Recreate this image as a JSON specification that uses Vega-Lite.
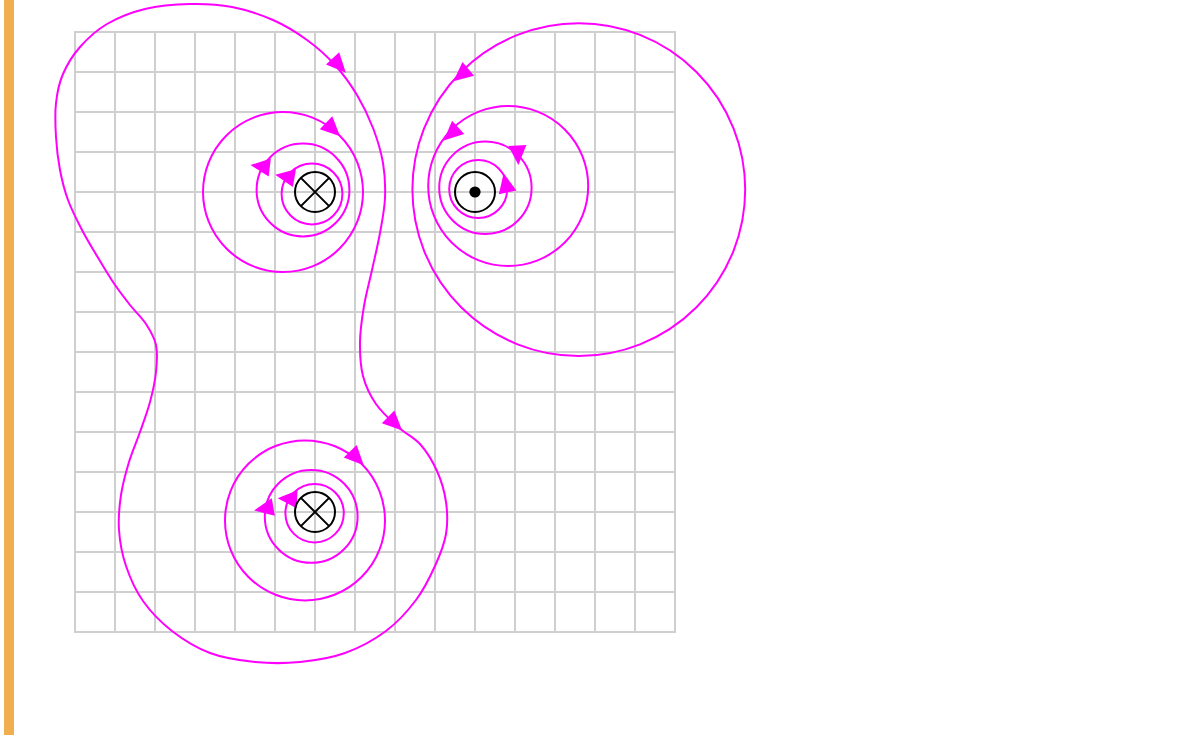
{
  "$schema": "https://vega.github.io/schema/vega-lite/v6.json",
  "width": 1180,
  "height": 738,
  "padding": 0,
  "autosize": "none",
  "background": "white",
  "config": {"view": {"stroke": null}},
  "datasets": {
    "bar": [{"x": -1.65, "y": -0.8, "y2": 17.575}],
    "grid": [
      {"x": 0, "y": 0, "x2": 0, "y2": 15}, {"x": 1, "y": 0, "x2": 1, "y2": 15}, {"x": 2, "y": 0, "x2": 2, "y2": 15}, {"x": 3, "y": 0, "x2": 3, "y2": 15},
      {"x": 4, "y": 0, "x2": 4, "y2": 15}, {"x": 5, "y": 0, "x2": 5, "y2": 15}, {"x": 6, "y": 0, "x2": 6, "y2": 15}, {"x": 7, "y": 0, "x2": 7, "y2": 15},
      {"x": 8, "y": 0, "x2": 8, "y2": 15}, {"x": 9, "y": 0, "x2": 9, "y2": 15}, {"x": 10, "y": 0, "x2": 10, "y2": 15}, {"x": 11, "y": 0, "x2": 11, "y2": 15},
      {"x": 12, "y": 0, "x2": 12, "y2": 15}, {"x": 13, "y": 0, "x2": 13, "y2": 15}, {"x": 14, "y": 0, "x2": 14, "y2": 15}, {"x": 15, "y": 0, "x2": 15, "y2": 15},
      {"x": 0, "y": 0, "x2": 15, "y2": 0}, {"x": 0, "y": 1, "x2": 15, "y2": 1}, {"x": 0, "y": 2, "x2": 15, "y2": 2}, {"x": 0, "y": 3, "x2": 15, "y2": 3},
      {"x": 0, "y": 4, "x2": 15, "y2": 4}, {"x": 0, "y": 5, "x2": 15, "y2": 5}, {"x": 0, "y": 6, "x2": 15, "y2": 6}, {"x": 0, "y": 7, "x2": 15, "y2": 7},
      {"x": 0, "y": 8, "x2": 15, "y2": 8}, {"x": 0, "y": 9, "x2": 15, "y2": 9}, {"x": 0, "y": 10, "x2": 15, "y2": 10}, {"x": 0, "y": 11, "x2": 15, "y2": 11},
      {"x": 0, "y": 12, "x2": 15, "y2": 12}, {"x": 0, "y": 13, "x2": 15, "y2": 13}, {"x": 0, "y": 14, "x2": 15, "y2": 14}, {"x": 0, "y": 15, "x2": 15, "y2": 15}
    ],
    "loop": [
      {"i": 1, "x": 2.875, "y": -0.7}, {"i": 2, "x": 3.925, "y": -0.625}, {"i": 3, "x": 4.95, "y": -0.3}, {"i": 4, "x": 5.8, "y": 0.2},
      {"i": 5, "x": 6.5, "y": 0.825}, {"i": 6, "x": 7.05, "y": 1.575}, {"i": 7, "x": 7.45, "y": 2.4}, {"i": 8, "x": 7.7, "y": 3.275},
      {"i": 9, "x": 7.75, "y": 4.15}, {"i": 10, "x": 7.625, "y": 5.025}, {"i": 11, "x": 7.425, "y": 5.95}, {"i": 12, "x": 7.225, "y": 6.85},
      {"i": 13, "x": 7.125, "y": 7.75}, {"i": 14, "x": 7.2, "y": 8.6}, {"i": 15, "x": 7.525, "y": 9.3}, {"i": 16, "x": 8.075, "y": 9.875},
      {"i": 17, "x": 8.625, "y": 10.3}, {"i": 18, "x": 9.05, "y": 10.975}, {"i": 19, "x": 9.275, "y": 11.75}, {"i": 20, "x": 9.275, "y": 12.55},
      {"i": 21, "x": 9.0, "y": 13.35}, {"i": 22, "x": 8.525, "y": 14.2}, {"i": 23, "x": 7.775, "y": 14.975}, {"i": 24, "x": 6.75, "y": 15.525},
      {"i": 25, "x": 5.625, "y": 15.75}, {"i": 26, "x": 4.5, "y": 15.75}, {"i": 27, "x": 3.375, "y": 15.525}, {"i": 28, "x": 2.425, "y": 14.975},
      {"i": 29, "x": 1.7, "y": 14.225}, {"i": 30, "x": 1.275, "y": 13.35}, {"i": 31, "x": 1.1, "y": 12.45}, {"i": 32, "x": 1.15, "y": 11.575},
      {"i": 33, "x": 1.35, "y": 10.75}, {"i": 34, "x": 1.625, "y": 10.0}, {"i": 35, "x": 1.875, "y": 9.25}, {"i": 36, "x": 2.025, "y": 8.5},
      {"i": 37, "x": 2.025, "y": 7.825}, {"i": 38, "x": 1.775, "y": 7.3}, {"i": 39, "x": 1.375, "y": 6.825}, {"i": 40, "x": 0.95, "y": 6.25},
      {"i": 41, "x": 0.55, "y": 5.6}, {"i": 42, "x": 0.175, "y": 4.95}, {"i": 43, "x": -0.175, "y": 4.2}, {"i": 44, "x": -0.375, "y": 3.45},
      {"i": 45, "x": -0.475, "y": 2.625}, {"i": 46, "x": -0.475, "y": 1.775}, {"i": 47, "x": -0.3, "y": 1.05}, {"i": 48, "x": 0.125, "y": 0.375},
      {"i": 49, "x": 0.8, "y": -0.2}, {"i": 50, "x": 1.75, "y": -0.575}
    ],
    "rings": [
      {"wire": "A", "x": 5.2, "y": 4.0, "r": 2.0},
      {"wire": "A", "x": 5.7, "y": 3.95, "r": 1.16},
      {"wire": "A", "x": 5.925, "y": 4.05, "r": 0.76},
      {"wire": "B", "x": 10.83, "y": 3.85, "r": 2.0},
      {"wire": "B", "x": 10.26, "y": 3.895, "r": 1.155},
      {"wire": "B", "x": 10.08, "y": 3.925, "r": 0.725},
      {"wire": "B", "x": 12.595, "y": 3.94, "r": 4.16},
      {"wire": "C", "x": 5.75, "y": 12.21, "r": 2.0},
      {"wire": "C", "x": 5.905, "y": 12.11, "r": 1.16},
      {"wire": "C", "x": 5.99, "y": 12.03, "r": 0.73}
    ],
    "arrows": [
      {"x": 6.393, "y": 2.383, "angle": 134},
      {"x": 4.708, "y": 3.367, "angle": 277},
      {"x": 5.325, "y": 3.625, "angle": 280},
      {"x": 9.708, "y": 1.025, "angle": 230},
      {"x": 9.458, "y": 2.493, "angle": 228},
      {"x": 11.068, "y": 3.0, "angle": 177},
      {"x": 10.783, "y": 3.85, "angle": 348},
      {"x": 6.993, "y": 10.6, "angle": 136},
      {"x": 4.798, "y": 11.903, "angle": 260},
      {"x": 5.39, "y": 11.673, "angle": 273},
      {"x": 6.55, "y": 0.778, "angle": 137},
      {"x": 7.945, "y": 9.735, "angle": 134}
    ],
    "wires": [
      {"kind": "in", "x": 6, "y": 4, "r": 0.5},
      {"kind": "out", "x": 10, "y": 4, "r": 0.5},
      {"kind": "in", "x": 6, "y": 12, "r": 0.5}
    ],
    "crosses": [
      {"x": 6, "y": 4, "r": 0.5},
      {"x": 6, "y": 12, "r": 0.5}
    ],
    "dots": [
      {"x": 10, "y": 4, "r": 0.14}
    ]
  },
  "encoding": {
    "x": {"field": "x", "type": "quantitative", "axis": null, "scale": {"domain": [-1.875, 27.625], "nice": false, "zero": false}},
    "y": {"field": "y", "type": "quantitative", "axis": null, "scale": {"domain": [-0.8, 17.65], "reverse": true, "nice": false, "zero": false}}
  },
  "layer": [
    {
      "data": {"name": "bar"},
      "mark": {"type": "rule", "color": "#F0AE4E", "strokeWidth": 10, "strokeCap": "butt"},
      "encoding": {"y2": {"field": "y2"}}
    },
    {
      "data": {"name": "grid"},
      "mark": {"type": "rule", "color": "#cfcfcf", "strokeWidth": 2, "strokeCap": "square"},
      "encoding": {"x2": {"field": "x2"}, "y2": {"field": "y2"}}
    },
    {
      "data": {"name": "loop"},
      "mark": {"type": "line", "interpolate": "cardinal-closed", "color": "#FF00FF", "strokeWidth": 2},
      "encoding": {"order": {"field": "i", "type": "quantitative"}}
    },
    {
      "data": {"name": "rings"},
      "mark": {"type": "point", "shape": "circle", "filled": false, "color": "#FF00FF", "strokeWidth": 2, "opacity": 1},
      "encoding": {"size": {"field": "r", "type": "quantitative", "legend": null, "scale": {"type": "pow", "exponent": 2, "domain": [0, 5], "range": [0, 160000], "zero": true}}}
    },
    {
      "data": {"name": "arrows"},
      "mark": {"type": "point", "shape": "M0,-1.3L0.9,0.65L-0.9,0.65Z", "filled": true, "color": "#FF00FF", "size": 400, "opacity": 1, "strokeWidth": 0},
      "encoding": {"angle": {"field": "angle", "type": "quantitative", "scale": {"domain": [0, 360], "range": [0, 360]}, "legend": null}}
    },
    {
      "data": {"name": "wires"},
      "mark": {"type": "point", "shape": "circle", "filled": false, "color": "#000000", "strokeWidth": 2, "opacity": 1},
      "encoding": {"size": {"field": "r", "type": "quantitative", "legend": null, "scale": {"type": "pow", "exponent": 2, "domain": [0, 5], "range": [0, 160000], "zero": true}}}
    },
    {
      "data": {"name": "crosses"},
      "mark": {"type": "point", "shape": "M-0.707,-0.707L0.707,0.707M-0.707,0.707L0.707,-0.707", "filled": false, "color": "#000000", "strokeWidth": 2, "opacity": 1},
      "encoding": {"size": {"field": "r", "type": "quantitative", "legend": null, "scale": {"type": "pow", "exponent": 2, "domain": [0, 5], "range": [0, 160000], "zero": true}}}
    },
    {
      "data": {"name": "dots"},
      "mark": {"type": "point", "shape": "circle", "filled": true, "color": "#000000", "opacity": 1},
      "encoding": {"size": {"field": "r", "type": "quantitative", "legend": null, "scale": {"type": "pow", "exponent": 2, "domain": [0, 5], "range": [0, 160000], "zero": true}}}
    }
  ]
}
